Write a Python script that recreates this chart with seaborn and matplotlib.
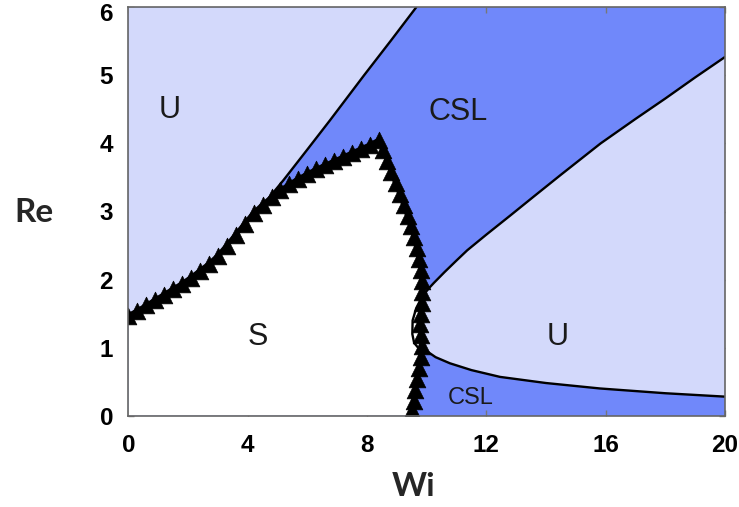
import matplotlib
matplotlib.use("Agg")
import matplotlib.pyplot as plt
import matplotlib.transforms as mtransforms
import seaborn as sns
import pandas as pd

# Neutral stability curve (triangle markers): rising branch then falling branch
wi_rise = [0.0, 0.3, 0.6, 0.9, 1.2, 1.5, 1.8, 2.1, 2.4, 2.7, 3.0, 3.3, 3.6, 3.9,
           4.2, 4.5, 4.8, 5.1, 5.4, 5.7, 6.0, 6.3, 6.6, 6.9, 7.2, 7.5, 7.8, 8.1, 8.4]
re_rise = [1.47, 1.54, 1.62, 1.70, 1.78, 1.86, 1.94, 2.03, 2.13, 2.23, 2.35, 2.50, 2.66, 2.82,
           2.98, 3.10, 3.21, 3.31, 3.40, 3.48, 3.55, 3.62, 3.68, 3.74, 3.80, 3.86, 3.92, 3.98, 4.05]
wi_fall = [8.55, 8.68, 8.82, 8.96, 9.10, 9.23, 9.36, 9.48, 9.58, 9.67, 9.75, 9.81, 9.84,
           9.85, 9.83, 9.80, 9.79, 9.81, 9.83, 9.80, 9.74, 9.68, 9.62, 9.56, 9.50]
re_fall = [3.90, 3.74, 3.58, 3.42, 3.26, 3.10, 2.94, 2.78, 2.62, 2.46, 2.30, 2.14, 1.98,
           1.82, 1.66, 1.50, 1.34, 1.18, 1.02, 0.86, 0.70, 0.54, 0.38, 0.22, 0.08]

# U / CSL boundary on the upper left
wi_left = [4.6, 5.2, 6.0, 6.76, 7.9, 8.8, 9.65]
re_left = [3.14, 3.46, 3.91, 4.34, 5.0, 5.51, 6.0]

# U / CSL boundary on the right: upper branch, turning loop, lower branch
wi_upper = [20.0, 19.0, 18.0, 17.0, 15.83, 14.5, 13.59, 12.8, 12.0, 11.36, 11.0, 10.6, 10.24, 10.07]
re_upper = [5.27, 4.97, 4.66, 4.36, 4.00, 3.54, 3.22, 2.94, 2.66, 2.43, 2.28, 2.11, 1.95, 1.87]
wi_loop = [9.85, 9.65, 9.53, 9.52, 9.58, 9.75]
re_loop = [1.75, 1.58, 1.40, 1.20, 1.07, 0.98]
wi_lower = [10.0, 10.3, 10.78, 11.5, 12.46, 14.0, 15.81, 18.0, 20.0]
re_lower = [0.95, 0.86, 0.77, 0.67, 0.57, 0.48, 0.40, 0.33, 0.28]

xticks = [0, 4, 8, 12, 16, 20]
yticks = [0, 1, 2, 3, 4, 5, 6]

regions = ["U", "CSL", "S", "U", "CSL"]
region_wi = [1.4, 11.06, 4.35, 14.38, 11.47]
region_re = [4.49, 4.46, 1.16, 1.16, 0.26]
region_size = [22, 22, 22, 22, 17]

LIGHT = "#d3d9fb"
DARK = "#7088fa"

sns.set_theme(style="ticks")
plt.rcParams["font.family"] = ["Liberation Sans", "DejaVu Sans"]

fig = plt.figure(figsize=(7.39, 5.07), dpi=100)
ax = fig.add_axes([128.3 / 739, 1 - 415.7 / 507, 596.7 / 739, 408.4 / 507])
ax.set_facecolor(DARK)

wi_tri = wi_rise + wi_fall
re_tri = re_rise + re_fall

# Upper-left unstable region
n_join = sum(1 for w in wi_rise if w <= wi_left[0])
ul_x = [0.0] + wi_left[::-1] + wi_rise[:n_join][::-1]
ul_y = [6.0] + re_left[::-1] + re_rise[:n_join][::-1]
ax.fill(ul_x, ul_y, color=LIGHT, lw=0, zorder=1)

# Right unstable region
ur_x = wi_upper + wi_loop + wi_lower
ur_y = re_upper + re_loop + re_lower
ax.fill(ur_x, ur_y, color=LIGHT, lw=0, zorder=1)

# Stable region under the neutral curve
s_x = [0.0] + wi_tri + [wi_fall[-1], 0.0]
s_y = [0.0] + re_tri + [0.0, 0.0]
ax.fill(s_x, s_y, color="white", lw=0, zorder=2)

# Boundary curves
left_df = pd.DataFrame({"Wi": wi_left, "Re": re_left})
right_df = pd.DataFrame({"Wi": ur_x, "Re": ur_y})
sns.lineplot(data=left_df, x="Wi", y="Re", sort=False, estimator=None,
             color="black", lw=1.7, ax=ax, zorder=3)
sns.lineplot(data=right_df, x="Wi", y="Re", sort=False, estimator=None,
             color="black", lw=1.7, ax=ax, zorder=3)

# Neutral curve with triangle markers
tri_df = pd.DataFrame({"Wi": wi_tri, "Re": re_tri})
sns.lineplot(data=tri_df, x="Wi", y="Re", sort=False, estimator=None,
             color="black", lw=3.5, ax=ax, zorder=4)
sns.scatterplot(data=tri_df, x="Wi", y="Re", marker="^", s=145, color="black",
                edgecolor="black", linewidth=0.5, ax=ax, zorder=5)

for lab, x, y, fs in zip(regions, region_wi, region_re, region_size):
    ax.text(x, y, lab, fontsize=fs, ha="center", va="center", color="#1a1a1a", zorder=6)

ax.set_xlim(0, 20)
ax.set_ylim(0, 6)
ax.set_xticks(xticks)
ax.set_yticks(yticks)
ax.set_xlabel("")
ax.set_ylabel("")
ax.tick_params(direction="in", length=4, width=1, color="#777777",
               labelcolor="black", top=True, right=True, labelsize=17.5)
ax.tick_params(axis="x", pad=13)
ax.tick_params(axis="y", pad=11)
for lbl in ax.get_xticklabels() + ax.get_yticklabels():
    lbl.set_fontweight("bold")
for sp in ax.spines.values():
    sp.set_color("#666666")
    sp.set_linewidth(1.2)
    sp.set_zorder(7)

# nudge the topmost y label down so it stays inside the figure
top_label = ax.get_yticklabels()[-1]
top_label.set_transform(top_label.get_transform() +
                        mtransforms.ScaledTranslation(0, -5 / 100, fig.dpi_scale_trans))

fig.text(34 / 739, 1 - 213 / 507, "Re", fontsize=24, fontweight="bold",
         family=["Lato", "DejaVu Sans"], ha="center", va="center")
fig.text(414 / 739, 1 - 486 / 507, "Wi", fontsize=24, fontweight="bold",
         family=["Lato", "DejaVu Sans"], ha="center", va="center")

fig.savefig("out.png", dpi=100)
